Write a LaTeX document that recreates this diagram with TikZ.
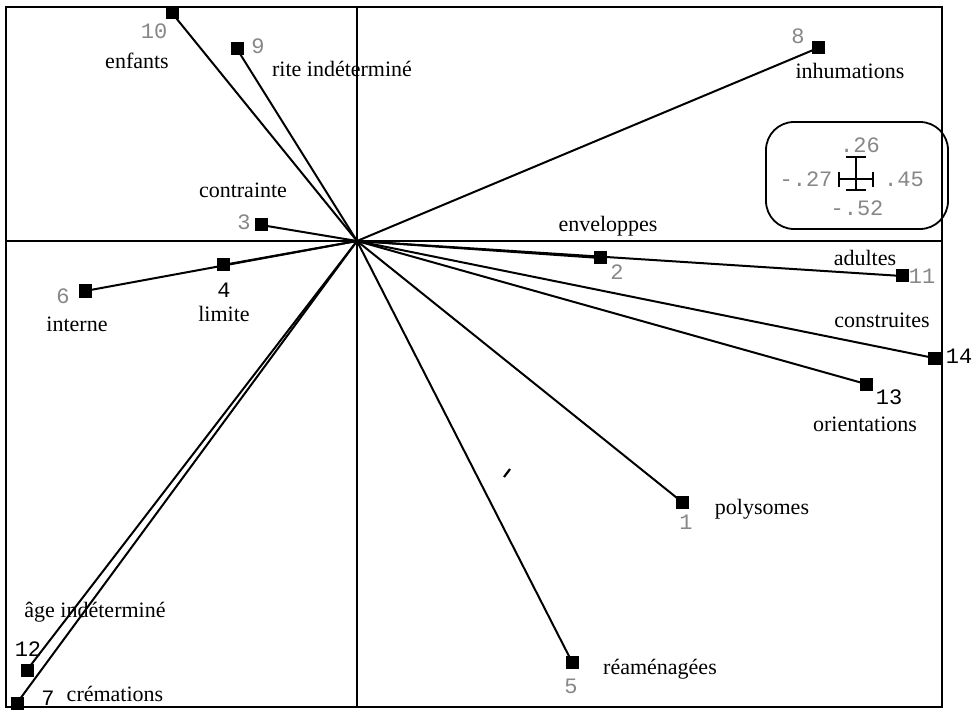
\documentclass[tikz,border=0pt]{standalone}
\usepackage{fontspec}
\setmainfont{Liberation Serif}
\newfontfamily\numfont{Liberation Mono}
\definecolor{numgray}{RGB}{135,135,135}
\begin{document}
\begin{tikzpicture}[x=1pt,y=-1pt,
  sq/.style={rectangle,fill=black,minimum size=13pt,inner sep=0pt},
  ray/.style={line width=2pt},
  frm/.style={line width=2pt},
  lbl/.style={inner sep=0pt,font=\fontsize{22}{24}\selectfont},
  gnum/.style={inner sep=0pt,text=numgray,font=\numfont\fontsize{22}{24}\selectfont},
  bnum/.style={inner sep=0pt,text=black,font=\numfont\fontsize{22}{24}\selectfont}]
\useasboundingbox (0,0) rectangle (974,711);
\fill[white] (0,0) rectangle (974,711);
% frame and axes
\draw[frm] (6,7) rectangle (942,707);
\draw[frm] (357,7) -- (357,707);
\draw[frm] (6,241) -- (942,241);
\coordinate (O) at (357,241);
% points
\node[sq] (p1) at (682,502) {};
\node[sq] (p2) at (600,258) {};
\node[sq] (p3) at (261,225) {};
\node[sq] (p4) at (223,265) {};
\node[sq] (p5) at (572,662) {};
\node[sq] (p6) at (85,291) {};
\node[sq] (p7) at (17,703) {};
\node[sq] (p8) at (818,48) {};
\node[sq] (p9) at (237,49) {};
\node[sq] (p10) at (172,13) {};
\node[sq] (p11) at (902,276) {};
\node[sq] (p12) at (27,670) {};
\node[sq] (p13) at (866,384) {};
\node[sq] (p14) at (934,358) {};
% rays
\foreach \p in {p1,p2,p3,p4,p5,p6,p7,p8,p9,p10,p11,p12,p13,p14}
  \draw[ray] (O) -- (\p.center);
% stray mark
\draw[line width=2.2pt] (504,477) -- (510,469);
% numbers
\node[gnum] (n10) at (154,31) {10};
\node[gnum] (n9) at (258,46) {9};
\node[gnum] (n3) at (244,222) {3};
\node[gnum] (n8) at (798,36) {8};
\node[gnum] (n2) at (617,272) {2};
\node[gnum] (n11) at (922,276) {11};
\node[gnum] (n1) at (686,522) {1};
\node[gnum] (n5) at (571,686) {5};
\node[gnum] (n6) at (63,296) {6};
\node[bnum] (n4) at (224,290) {4};
\node[bnum] (n14) at (959,356) {14};
\node[bnum] (n13) at (889,397) {13};
\node[bnum] (n12) at (28,649) {12};
\node[bnum] (n7) at (48,698) {7};
% labels
\node[lbl] (l10) at (137,61) {enfants};
\node[lbl] (l9) at (342,69) {rite indéterminé};
\node[lbl] (l3) at (243,190) {contrainte};
\node[lbl] (l8) at (850,71) {inhumations};
\node[lbl] (l2) at (608,226) {enveloppes};
\node[lbl] (l11) at (865,258) {adultes};
\node[lbl] (l14) at (882,320) {construites};
\node[lbl] (l13) at (865,424) {orientations};
\node[lbl] (l1) at (762,509) {polysomes};
\node[lbl] (l5) at (660,669) {réaménagées};
\node[lbl] (l6) at (77,324) {interne};
\node[lbl] (l4) at (224,314) {limite};
\node[lbl] (l12) at (95,612) {âge indéterminé};
\node[lbl] (l7) at (115,694) {crémations};
% legend
\draw[line width=1.8pt,rounded corners=28pt] (766,122) rectangle (948,229);
\node[gnum] (top) at (860,145) {.26};
\node[gnum] (left) at (806,179) {-.27};
\node[gnum] (right) at (904,179) {.45};
\node[gnum] (bot) at (857,208) {-.52};
\draw[line width=1.8pt] (839,179) -- (873,179);
\draw[line width=1.8pt] (839,172) -- (839,187);
\draw[line width=1.8pt] (873,172) -- (873,187);
\draw[line width=1.8pt] (856,157) -- (856,190);
\draw[line width=1.8pt] (846,157) -- (866,157);
\draw[line width=1.8pt] (846,190) -- (866,190);
\end{tikzpicture}
\end{document}
